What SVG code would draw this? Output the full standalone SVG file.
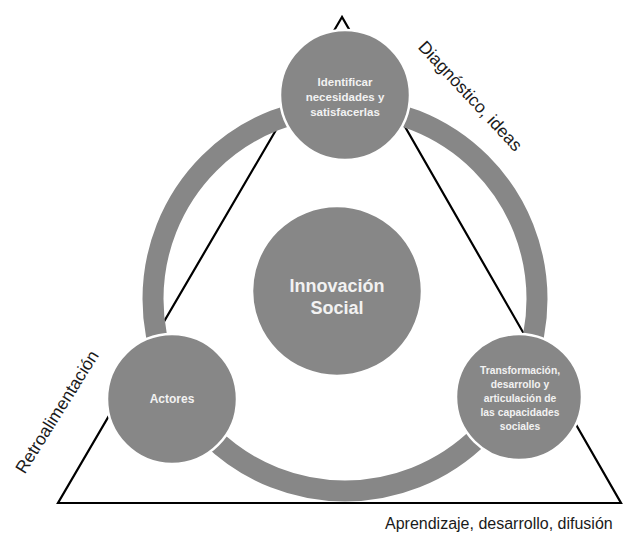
<svg xmlns="http://www.w3.org/2000/svg" width="623" height="543" viewBox="0 0 623 543">
<style>
.node{fill:#878787;stroke:#ffffff;stroke-width:2.5}
.nt{font-family:"Liberation Sans",Arial,sans-serif;font-weight:bold;fill:#f2f2f2;text-anchor:middle}
.lbl{font-family:"Liberation Sans",Arial,sans-serif;fill:#1a1a1a;font-size:17.5px}
</style>
<rect width="623" height="543" fill="#ffffff"/>
<g id="connectors">
<polygon points="342,17 58,503 621,503" fill="none" stroke="#000" stroke-width="2.2" stroke-linejoin="miter"/>
<circle cx="345" cy="299" r="192" fill="none" stroke="#878787" stroke-width="21"/>
</g>
<g id="innovacion">
<circle class="node" cx="337" cy="291" r="85"/>
<text class="nt" font-size="18" x="337" y="292">Innovación</text>
<text class="nt" font-size="18" x="337" y="314">Social</text>
</g>
<g id="identificar">
<circle class="node" cx="345" cy="95" r="65"/>
<text class="nt" font-size="11.5" x="345" y="86">Identificar</text>
<text class="nt" font-size="11.5" x="345" y="101">necesidades y</text>
<text class="nt" font-size="11.5" x="345" y="116">satisfacerlas</text>
</g>
<g id="actores">
<circle class="node" cx="172" cy="399" r="65"/>
<text class="nt" font-size="12" x="172" y="403">Actores</text>
</g>
<g id="transformacion">
<circle class="node" cx="519" cy="397" r="63"/>
<text class="nt" font-size="10.3" x="520" y="374">Transformación,</text>
<text class="nt" font-size="10.3" x="520" y="388">desarrollo y</text>
<text class="nt" font-size="10.3" x="520" y="402">articulación de</text>
<text class="nt" font-size="10.3" x="520" y="416">las capacidades</text>
<text class="nt" font-size="10.3" x="520" y="430">sociales</text>
</g>
<g id="labels">
<text class="lbl" x="466" y="100" text-anchor="middle" transform="rotate(47 466 100)">Diagnóstico, ideas</text>
<text class="lbl" x="62" y="415" text-anchor="middle" transform="rotate(-58 62 415)">Retroalimentación</text>
<text class="lbl" x="385" y="529" style="font-size:16px">Aprendizaje, desarrollo, difusión</text>
</g>
</svg>
